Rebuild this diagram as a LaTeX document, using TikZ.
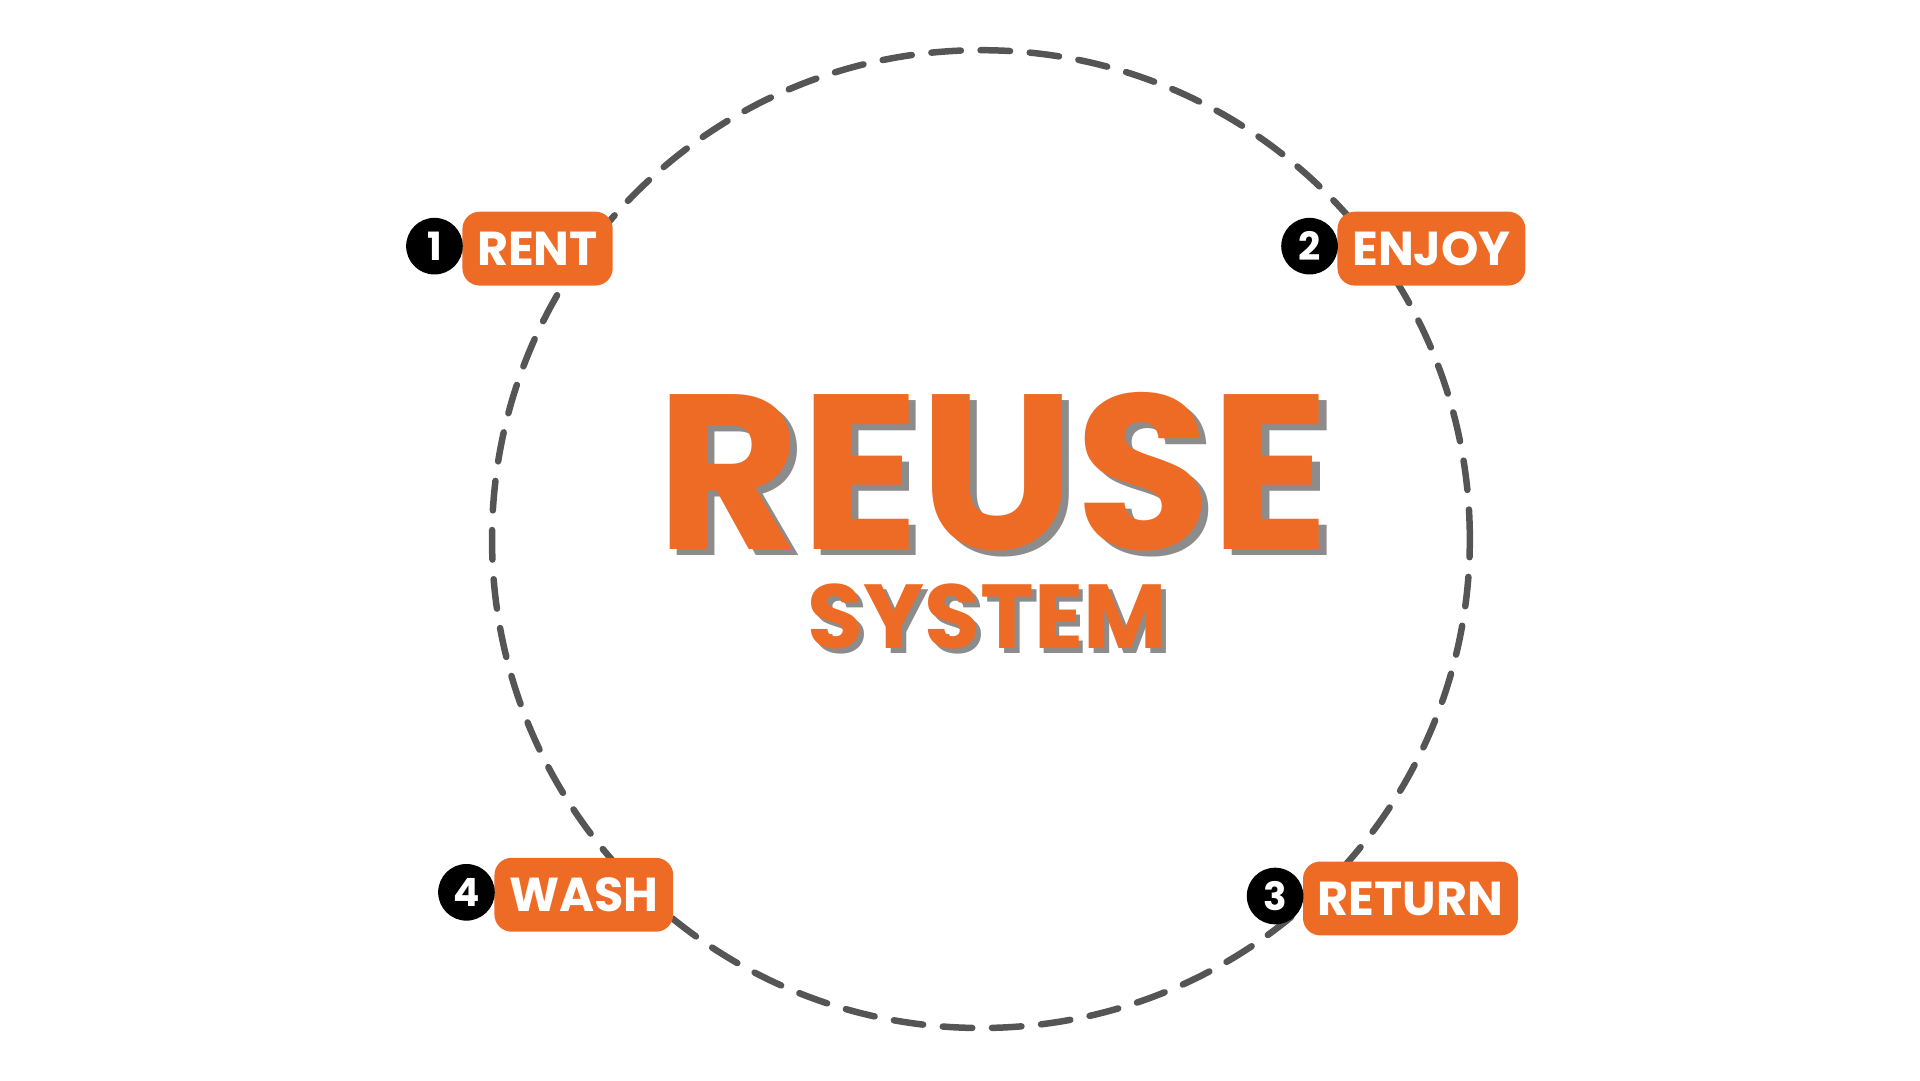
\documentclass[tikz,border=0pt]{standalone}
\usepackage{fontspec}
\setmainfont{Poppins}[BoldFont={Poppins Bold}]
\usetikzlibrary{positioning}
\definecolor{reuseorange}{HTML}{EE6B26}
\definecolor{ringgrey}{HTML}{555555}
\definecolor{shadowgrey}{HTML}{8C8C8C}
\tikzset{
  stage/.style={fill=reuseorange, rounded corners=4pt, text=white, font=\bfseries\fontsize{11}{11}\selectfont,
    minimum height=0.6cm, inner xsep=0.12cm, anchor=west},
  badge/.style={circle, fill=black, text=white, font=\bfseries\fontsize{9}{9}\selectfont,
    minimum size=0.46cm, inner sep=0pt}
}
\begin{document}
\begin{tikzpicture}[x=0.01cm,y=-0.01cm]
  \useasboundingbox (0,0) rectangle (1560,878);
  % dashed ring
  \draw[ringgrey, line width=1.5pt, line cap=round, dash pattern=on 0.24cm off 0.16cm]
    (797,438) circle[radius=3.97cm];

  % title with shadow
  \node[text=shadowgrey, font=\bfseries\fontsize{51}{51}\selectfont] at (813,388) {REUSE};
  \node[text=reuseorange, font=\bfseries\fontsize{51}{51}\selectfont] (title) at (807,383) {REUSE};
  \node[text=shadowgrey, font=\bfseries\fontsize{21}{21}\selectfont] at (806,505) {SYSTEM};
  \node[text=reuseorange, font=\bfseries\fontsize{21}{21}\selectfont] (sub) at (802,501) {SYSTEM};

  % stages
  \foreach \nm/\x/\y/\num/\lbl in {rent/375/202/1/RENT, enjoy/1086/202/2/ENJOY,
                                 return/1058/730/3/RETURN, wash/401/727/4/WASH} {
    \node[stage] (\nm) at (\x,\y) {\lbl};
    \node[badge] (b\nm) at (\x-22,\y-2) {\num};
  }
\end{tikzpicture}
\end{document}
